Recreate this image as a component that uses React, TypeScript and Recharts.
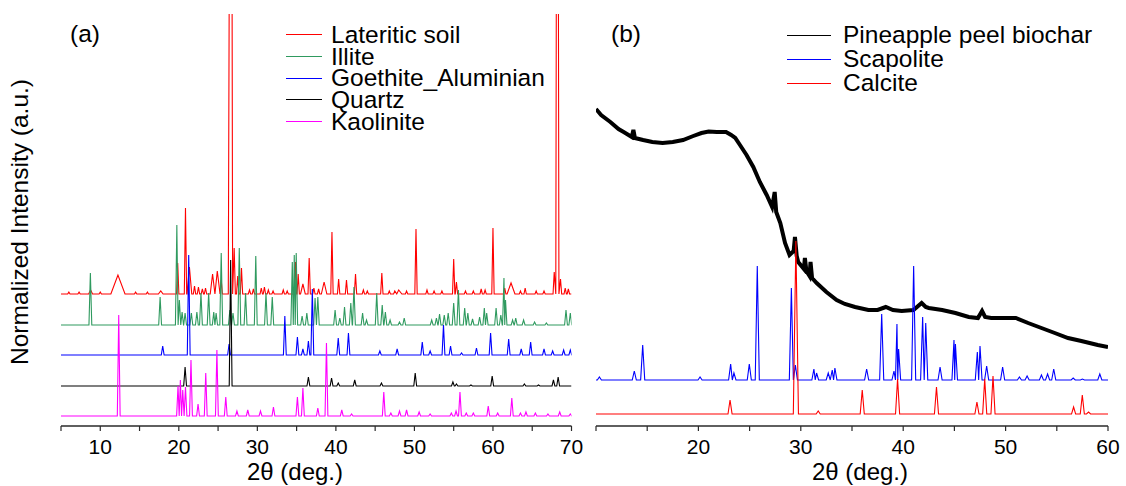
import React from 'react';
import { LineChart, Line, XAxis, YAxis, Legend } from 'recharts';

const FONT = '"Liberation Sans", Arial, sans-serif';

// peaks are [2θ position, height above the trace baseline, optional half width]
// heights are in the panel's own "px above the x axis" units (0..412)

// ---- panel (a) ----
const lateriticPeaks = [
  [6, 2], [7.3, 2], [8.77, 4, 0.25], [10, 2], [12.25, 19, 0.9], [14.5, 2], [16, 2], [17.7, 3, 0.3],
  [19.86, 31], [20.85, 86], [21.35, 27, 0.3], [22.0, 8], [22.5, 7], [23.0, 5], [23.4, 6],
  [24.3, 20, 0.3], [24.9, 23, 0.35], [25.4, 14], [26.65, 900, 0.35], [27.05, 46], [27.5, 18],
  [27.98, 26], [29.0, 4], [29.5, 5], [30.5, 6], [30.9, 7], [31.4, 4], [32, 3], [33.3, 4], [33.8, 3],
  [34.85, 32], [35.2, 20], [35.8, 10, 0.3], [36.6, 36], [37.2, 6], [37.8, 5], [38.5, 12, 0.35],
  [39.5, 62], [40.35, 15], [41.35, 14], [42.5, 20], [43.5, 4], [44, 3], [45.85, 21], [46.8, 3],
  [47.5, 3], [48.0, 4, 0.4], [49, 3], [50.2, 65], [51.6, 4], [52.5, 3], [53.5, 3], [55.0, 35],
  [55.35, 12], [56.5, 3], [57.5, 3], [58.5, 5], [59.0, 4], [60.0, 66], [61.5, 6], [62.3, 11, 0.5],
  [63.5, 3], [64.1, 6], [65.5, 3], [66.5, 3], [67.8, 22], [68.2, 900, 0.35], [68.6, 15], [69.2, 6],
  [69.6, 5],
];
const illitePeaks = [
  [8.74, 52], [17.62, 28], [19.75, 100], [20.07, 25], [20.42, 13], [20.8, 12], [21.6, 12],
  [22.3, 13], [22.82, 32], [23.8, 32], [24.45, 13], [24.75, 12], [25.4, 72], [26.5, 15],
  [26.9, 12], [27.7, 77], [28.5, 32], [29.8, 69], [31.1, 32], [31.9, 28], [34.45, 63], [34.7, 70],
  [34.95, 72], [35.7, 9], [36.3, 12], [37.35, 27], [37.7, 28], [39.9, 15], [40.5, 7], [41.1, 18],
  [41.9, 22], [42.3, 38], [43.4, 12], [43.9, 5], [45.2, 32], [45.9, 20], [46.3, 13], [46.9, 5],
  [48.1, 3], [48.7, 7], [52.2, 5], [52.8, 7], [53.2, 11], [53.8, 10], [54.3, 12], [55.0, 22],
  [55.6, 35], [56.4, 17], [56.8, 12], [57.4, 6], [58.3, 8], [58.9, 17], [59.2, 12], [60.4, 17],
  [61.0, 10], [61.4, 47], [61.6, 25], [62.5, 5], [62.9, 7], [63.9, 5], [65.3, 3], [66.8, 2],
  [69.3, 15], [69.85, 12],
];
const goethitePeaks = [
  [17.95, 9], [21.26, 100], [26.4, 11], [33.5, 39], [35.1, 18], [35.8, 6], [36.5, 14], [37.0, 66],
  [40.3, 17], [41.6, 22], [45.6, 4], [47.8, 6], [51.0, 13], [52.0, 4], [53.7, 30], [54.6, 9],
  [56.0, 2], [57.9, 7], [59.7, 22], [62.0, 16], [63.6, 6], [64.8, 13], [66.5, 6], [67.6, 4],
  [69.0, 5], [69.85, 5],
];
const quartzPeaks = [
  [20.8, 19], [26.6, 126], [36.5, 9], [39.45, 8], [40.3, 3], [42.4, 6], [45.8, 3], [50.1, 13],
  [54.9, 4], [55.35, 2], [57.2, 1], [59.9, 10], [64.0, 2], [65.8, 1], [67.7, 6], [68.3, 9],
];
const kaolinitePeaks = [
  [12.35, 101], [19.9, 30], [20.2, 36], [20.5, 26], [20.85, 29], [21.55, 56], [22.45, 12],
  [23.43, 43], [24.85, 66], [25.98, 19], [27.4, 5], [28.78, 6], [30.4, 5], [32.05, 9], [35.1, 19],
  [35.8, 28], [37.7, 8], [38.8, 73], [40.75, 6], [42.0, 2], [46.1, 24], [47.0, 3], [48.1, 5],
  [49.0, 6], [50.6, 4], [52.0, 2], [54.7, 3], [55.3, 5], [55.8, 24], [56.6, 3], [57.5, 3],
  [59.4, 10], [60.6, 3], [62.4, 18], [63.5, 3], [64.2, 4], [65.4, 3], [67.0, 2], [68.5, 4],
  [69.85, 2],
];
const baselinesA = { lateritic: 132, illite: 101, goethite: 71, quartz: 40, kaolinite: 10 };
const ticksA = [5, 10, 15, 20, 25, 30, 35, 40, 45, 50, 55, 60, 65, 70];

// ---- panel (b) ----
const biocharTrace = [
  [10, 317], [10.5, 311], [11.4, 304], [12.2, 297], [12.7, 294], [13.5, 289], [13.65, 296],
  [13.8, 288], [14.6, 286], [15.5, 284], [16.5, 283], [17.5, 284], [18.5, 286], [19.5, 290],
  [20.3, 293], [21, 294.5], [21.8, 294], [22.7, 294], [23.2, 291], [23.6, 288], [24.06, 281],
  [24.7, 271], [25.36, 259], [26.0, 244], [26.67, 231], [27.2, 219], [27.45, 234], [27.6, 214],
  [28.0, 203], [28.46, 183], [28.9, 171], [29.3, 175], [29.43, 189], [29.6, 170], [29.75, 164],
  [30.3, 157], [30.4, 168], [30.55, 155], [30.85, 150], [30.95, 164], [31.1, 148], [31.55, 143],
  [32.5, 134], [33.5, 126], [34.3, 122], [35.3, 119], [36.6, 116], [37.5, 116], [38.3, 119],
  [39.0, 116], [39.85, 115], [41.0, 116], [41.8, 123], [42.2, 119], [42.5, 118], [43.8, 116],
  [45.1, 113], [46.4, 109], [47.3, 108], [47.7, 115], [48.0, 109], [48.6, 108], [49.9, 108],
  [51.0, 108], [52.2, 103], [53.5, 98], [54.8, 93], [56.1, 88], [57.4, 85], [58.2, 83], [59.0, 81],
  [60, 79],
];
const scapolitePeaks = [
  [10.33, 3], [13.74, 9], [14.56, 35], [20.16, 3], [23.15, 16], [23.47, 7], [24.97, 16],
  [25.75, 114], [29.08, 92], [29.47, 15], [31.28, 11], [31.54, 7], [32.68, 7], [33.07, 10],
  [33.33, 12], [36.43, 11], [37.9, 66], [39.1, 9], [39.39, 56], [39.55, 31], [41.02, 114],
  [41.9, 63], [42.2, 57], [43.6, 13], [44.96, 40], [45.1, 36], [47.24, 28], [47.5, 34],
  [48.15, 14], [49.71, 13], [51.35, 3], [52.1, 4], [53.5, 5], [54.1, 6], [54.7, 11], [56.6, 2],
  [57.5, 1], [59.2, 6],
];
const calcitePeaks = [
  [23.09, 14], [29.52, 173, 0.25], [31.7, 3], [36.0, 24], [39.45, 35], [43.25, 27], [47.2, 12],
  [47.96, 35], [48.77, 38], [56.64, 7], [57.49, 19], [58.1, 2],
];
const baselinesB = { scapolite: 46, calcite: 12 };
const ticksB = [10, 15, 20, 25, 30, 35, 40, 45, 50, 55, 60];

function buildPattern(peaks: number[][], base: number, from: number, to: number, hw: number) {
  const pts: { x: number; y: number }[] = [{ x: from, y: base }];
  let lastPeak: number | null = null;
  [...peaks]
    .sort((a, b) => a[0] - b[0])
    .forEach(([pos, h, w]) => {
      const half = w ?? hw;
      const prev = pts[pts.length - 1];
      if (prev.x > pos - half) {
        if (lastPeak !== null) {
          // overlaps the previous peak: meet it in a valley between the two
          pts.pop();
          pts.push({ x: (lastPeak + pos) / 2, y: base });
        }
      } else {
        pts.push({ x: pos - half, y: base });
      }
      pts.push({ x: pos, y: base + h }, { x: pos + half, y: base });
      lastPeak = pos;
    });
  pts.push({ x: to, y: base });
  return pts;
}

const seriesA = [
  { name: 'Lateritic soil', color: '#ff0000', data: buildPattern(lateriticPeaks, baselinesA.lateritic, 5, 70, 0.15) },
  { name: 'Illite', color: '#2f9a5f', data: buildPattern(illitePeaks, baselinesA.illite, 5, 70, 0.18) },
  { name: 'Goethite_Aluminian', color: '#0000ff', data: buildPattern(goethitePeaks, baselinesA.goethite, 5, 70, 0.18) },
  { name: 'Quartz', color: '#000000', data: buildPattern(quartzPeaks, baselinesA.quartz, 5, 70, 0.18) },
  { name: 'Kaolinite', color: '#ff00ff', data: buildPattern(kaolinitePeaks, baselinesA.kaolinite, 5, 70, 0.18) },
];

const seriesB = [
  { name: 'Pineapple peel biochar', color: '#000000', width: 4, data: biocharTrace.map(([x, y]) => ({ x, y })) },
  { name: 'Scapolite', color: '#0000ff', width: 1.1, data: buildPattern(scapolitePeaks, baselinesB.scapolite, 10, 60, 0.2) },
  { name: 'Calcite', color: '#ff0000', width: 1.1, data: buildPattern(calcitePeaks, baselinesB.calcite, 10, 60, 0.2) },
];

const AXIS = '#2a2a2a';

// legend in the series' own order (recharts would sort it by name)
function LegendBox({ series, lineW, gap, rowH }: any) {
  return (
    <div style={{ fontFamily: FONT }}>
      {series.map((s: any) => (
        <div key={s.name} style={{ display: 'flex', alignItems: 'center', height: rowH }}>
          <span style={{ display: 'inline-block', width: lineW, borderTop: `1px solid ${s.color}`, marginRight: gap }} />
          <span style={{ fontSize: 24.5, lineHeight: `${rowH}px`, whiteSpace: 'nowrap', color: '#000' }}>{s.name}</span>
        </div>
      ))}
    </div>
  );
}

const tickStyle = { fontSize: 21, fill: '#000', fontFamily: FONT };

function Panel({ width, margin, domainX, ticks, series, legend, topVal }: any) {
  return (
    <LineChart width={width} height={486} margin={margin}>
      <XAxis
        xAxisId="b"
        type="number"
        dataKey="x"
        domain={domainX}
        ticks={ticks}
        allowDataOverflow
        interval={0}
        tickFormatter={(v: number) => (v % 10 === 0 && v > domainX[0] ? String(v) : '')}
        height={60}
        tickSize={5}
        tickMargin={8}
        tick={tickStyle}
        stroke={AXIS}
        axisLine={{ stroke: AXIS, strokeWidth: 1.5 }}
        tickLine={{ stroke: AXIS, strokeWidth: 1.2 }}
      />
      <XAxis xAxisId="t" orientation="top" type="number" domain={domainX} tick={false} tickLine={false} height={0} axisLine={{ stroke: AXIS, strokeWidth: 1.5 }} />
      <YAxis yAxisId="l" type="number" domain={[0, topVal]} allowDataOverflow tick={false} tickLine={false} width={0} axisLine={{ stroke: AXIS, strokeWidth: 1.5 }} />
      <YAxis yAxisId="r" orientation="right" type="number" domain={[0, topVal]} tick={false} tickLine={false} width={0} axisLine={{ stroke: AXIS, strokeWidth: 1.5 }} />
      {series.map((s: any) => (
        <Line
          key={s.name}
          xAxisId="b"
          yAxisId="l"
          data={s.data}
          dataKey="y"
          name={s.name}
          type="linear"
          stroke={s.color}
          strokeWidth={s.width ?? 1.1}
          dot={false}
          activeDot={false}
          isAnimationActive={false}
        />
      ))}
      <Legend
        layout="vertical"
        align="center"
        verticalAlign="middle"
        wrapperStyle={legend.wrapper}
        content={() => <LegendBox series={series} lineW={legend.lineW} gap={legend.gap} rowH={legend.rowH} />}
      />
    </LineChart>
  );
}

const textBase: React.CSSProperties = {
  position: 'absolute',
  fontFamily: FONT,
  lineHeight: 1,
  whiteSpace: 'nowrap',
  color: '#000',
};

export default function App() {
  return (
    <div style={{ position: 'absolute', left: 0, top: 0, width: 1126, height: 486, background: '#fff', overflow: 'hidden' }}>
      <div style={{ position: 'absolute', left: 0, top: 0 }}>
        <Panel
          width={590}
          margin={{ top: 14, right: 18.5, bottom: 0, left: 61 }}
          domainX={[5, 70]}
          ticks={ticksA}
          series={seriesA}
          topVal={412}
          legend={{ wrapper: { left: 285.5, top: 24, width: 290 }, lineW: 36.5, gap: 9, rowH: 21.7 }}
        />
      </div>
      <div style={{ position: 'absolute', left: 590, top: 0 }}>
        <Panel
          width={536}
          margin={{ top: 13, right: 18, bottom: 0, left: 6 }}
          domainX={[10, 60]}
          ticks={ticksB}
          series={seriesB}
          topVal={413}
          legend={{ wrapper: { left: 197, top: 23, width: 330 }, lineW: 44, gap: 12, rowH: 24 }}
        />
      </div>
      <div style={{ ...textBase, left: 70, top: 22, fontSize: 24.5 }}>(a)</div>
      <div style={{ ...textBase, left: 611, top: 22, fontSize: 24.5 }}>(b)</div>
      <div
        style={{
          ...textBase,
          left: 19.5,
          top: 222,
          fontSize: 24.5,
          transform: 'translate(-50%, -50%) rotate(-90deg)',
        }}
      >
        Normalized Intensity (a.u.)
      </div>
      <div style={{ ...textBase, left: 295, top: 460, fontSize: 24, transform: 'translateX(-50%)' }}>2θ (deg.)</div>
      <div style={{ ...textBase, left: 860, top: 460, fontSize: 24, transform: 'translateX(-50%)' }}>2θ (deg.)</div>
    </div>
  );
}
